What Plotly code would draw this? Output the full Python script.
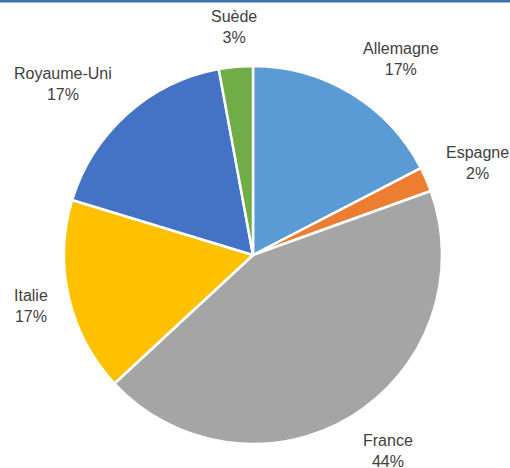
import numpy as np
import plotly.graph_objects as go

# Data
countries = ["Allemagne", "Espagne", "France", "Italie", "Royaume-Uni", "Suède"]
shares = [17.4, 2.1, 43.6, 16.6, 17.4, 2.9]
colors = ["#5B9BD5", "#ED7D31", "#A5A5A5", "#FFC000", "#4472C4", "#70AD47"]

W, H = 510, 468
CX, CY, R = 253, 255, 189  # pie centre / radius in pixels

fig = go.Figure()
fig.add_trace(go.Pie(
    labels=countries,
    values=shares,
    sort=False,
    direction="clockwise",
    rotation=0,
    textinfo="none",
    hoverinfo="label+percent",
    marker=dict(colors=colors, line=dict(color="white", width=2.5)),
    domain=dict(x=[(CX - R) / W, (CX + R) / W], y=[1 - (CY + R) / H, 1 - (CY - R) / H]),
    showlegend=False,
))

# Labels placed outside, derived from each slice's mid-angle
vals = np.array(shares, dtype=float)
total = vals.sum()
cum = np.cumsum(vals) - vals / 2
annotations = []
LR = 208
HALF_H = 21
for name, c, v in zip(countries, cum, vals):
    ang = 2 * np.pi * c / total
    ux, uy = np.sin(ang), -np.cos(ang)  # screen coords, y down
    px = CX + LR * ux
    py = CY + LR * uy + uy * HALF_H
    if ux > 0.2:
        xa = "left"
    elif ux < -0.2:
        xa = "right"
    else:
        xa = "center"
    annotations.append(dict(
        x=px / W, y=1 - py / H, xref="paper", yref="paper",
        xanchor=xa, yanchor="middle", showarrow=False, align="center",
        text=f"{name}<br>{round(v / total * 100):.0f}%",
        font=dict(family="Liberation Sans, Arial, sans-serif", size=16, color="#404040"),
    ))

fig.update_layout(
    width=W, height=H,
    margin=dict(l=0, r=0, t=0, b=0),
    paper_bgcolor="white",
    plot_bgcolor="white",
    annotations=annotations,
    shapes=[dict(type="rect", xref="paper", yref="paper", x0=0, x1=1,
                 y0=1 - 2.5 / H, y1=1, fillcolor="#3F72B5", line=dict(width=0))],
)

fig.write_html(
    "out.html",
    config={"displayModeBar": False},
    post_script="document.body.style.margin='0px';document.body.style.overflow='hidden';",
)
